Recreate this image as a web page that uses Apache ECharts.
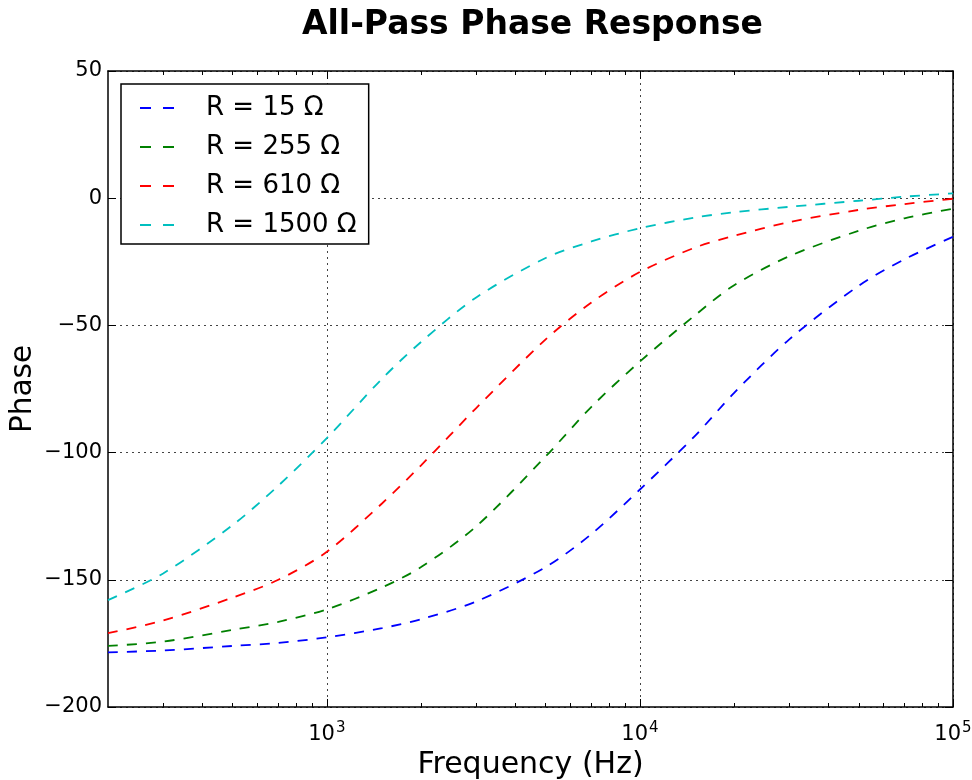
<!DOCTYPE html>
<html><head><meta charset="utf-8">
<script src="https://cdn.jsdelivr.net/npm/echarts@6/dist/echarts.min.js"></script>
<style>html,body{margin:0;padding:0;background:#fff}#c{width:972px;height:780px}</style>
</head><body><div id="c"></div>
<script>
// ---- data ----
const frequencies = [200, 300, 500, 700, 1000, 1500, 2000, 3000, 5000, 7000, 10000, 15000, 20000, 30000, 50000, 70000, 100000];
const seriesNames = ['R = 15 Ω', 'R = 255 Ω', 'R = 610 Ω', 'R = 1500 Ω'];
const phaseR15   = [-178.5, -177.8, -176, -174.8, -172.6, -169, -165.5, -158.5, -145, -132, -114.5, -93.4, -76.5, -55.5, -34.4, -24, -15.2];
const phaseR255  = [-176, -174.3, -169.7, -166.5, -161.6, -153, -145, -129, -101.5, -82, -64.2, -46, -34.2, -22.8, -12.8, -7.9, -4.1];
const phaseR610  = [-171, -166, -157, -150, -139, -120, -105, -82.5, -55.5, -41, -29, -19.4, -14.8, -9.4, -4.6, -2.3, -0.2];
const phaseR1500 = [-158, -147.5, -128.5, -113, -94.3, -71, -56.5, -39, -23.5, -17, -11.8, -7.6, -5.5, -3.4, -1.0, 0.6, 1.9];
const seriesValues = [phaseR15, phaseR255, phaseR610, phaseR1500];
const seriesColors = ['#0000ff', '#008000', '#ff0000', '#00bfbf'];
const xMajorTicks = [1000, 10000, 100000];
const xMinorTicks = [300, 400, 500, 600, 700, 800, 900, 2000, 3000, 4000, 5000, 6000, 7000, 8000, 9000, 20000, 30000, 40000, 50000, 60000, 70000, 80000, 90000];
const yMin = -200, yMax = 50, yStep = 50;

const FONT = 'DejaVu Sans';
const chart = echarts.init(document.getElementById('c'), null, {renderer: 'canvas'});
const grid = {left: 108, right: 19, top: 71, bottom: 73, outerBoundsMode: 'none', containLabel: false};

function xAxisBase(extra) {
  return Object.assign({
    type: 'log', logBase: 10, min: 200, max: 100000, gridIndex: 0,
    axisLine: {show: false, onZero: false}, axisLabel: {show: false}, splitLine: {show: false},
    axisTick: {show: false}
  }, extra);
}

const xAxes = [
  xAxisBase({
    position: 'bottom',
    name: 'Frequency (Hz)', nameLocation: 'middle', nameGap: 43, nameMoveOverlap: false,
    nameTextStyle: {fontFamily: FONT, fontSize: 30, color: '#000'},
    axisLine: {show: true, onZero: false, lineStyle: {color: '#000', width: 1.5}},
    axisTick: {show: true, inside: true, length: 8, customValues: xMajorTicks, lineStyle: {color: '#000', width: 1}},
    axisLabel: {show: true, customValues: xMajorTicks, margin: 14, color: '#000', fontFamily: FONT, fontSize: 21,
      formatter: v => '10{sup|' + Math.round(Math.log10(v)) + '}',
      rich: {sup: {fontSize: 15, fontFamily: FONT, color: '#000', verticalAlign: 'top', padding: [0, 0, 12, 1]}}},
    splitLine: {show: true, lineStyle: {color: '#444', type: [2, 4], width: 1}}
  }),
  xAxisBase({position: 'bottom',
    axisTick: {show: true, inside: true, length: 4, customValues: xMinorTicks, lineStyle: {color: '#000', width: 1}}}),
  xAxisBase({position: 'top',
    axisLine: {show: true, onZero: false, lineStyle: {color: '#000', width: 1.5}},
    axisTick: {show: true, inside: true, length: 8, customValues: xMajorTicks, lineStyle: {color: '#000', width: 1}}}),
  xAxisBase({position: 'top',
    axisTick: {show: true, inside: true, length: 4, customValues: xMinorTicks, lineStyle: {color: '#000', width: 1}}})
];

const yAxes = [
  {type: 'value', min: yMin, max: yMax, interval: yStep, position: 'left',
   name: 'Phase', nameLocation: 'middle', nameGap: 70, nameRotate: 90, nameMoveOverlap: false,
   nameTextStyle: {fontFamily: FONT, fontSize: 29.5, color: '#000'},
   axisLine: {show: true, onZero: false, lineStyle: {color: '#000', width: 1.5}},
   axisTick: {show: true, inside: true, length: 8, lineStyle: {color: '#000', width: 1}},
   axisLabel: {margin: 6, color: '#000', fontFamily: FONT, fontSize: 21,
     formatter: v => String(v).replace('-', '\u2212')},
   splitLine: {show: true, lineStyle: {color: '#444', type: [2, 4], width: 1}}},
  {type: 'value', min: yMin, max: yMax, interval: yStep, position: 'right',
   axisLine: {show: true, onZero: false, lineStyle: {color: '#000', width: 1.5}},
   axisTick: {show: true, inside: true, length: 8, lineStyle: {color: '#000', width: 1}},
   axisLabel: {show: false}, splitLine: {show: false}}
];

const series = seriesNames.map((name, i) => ({
  name, type: 'line', xAxisIndex: 0, yAxisIndex: 0,
  data: frequencies.map((f, j) => [f, seriesValues[i][j]]),
  smooth: 0.3, symbol: 'none', showSymbol: false,
  lineStyle: {color: seriesColors[i], width: 1.8, type: [10, 9]},
  itemStyle: {color: seriesColors[i]},
  emphasis: {disabled: true}, animation: false
}));

chart.setOption({
  animation: false,
  backgroundColor: '#fff',
  title: {text: 'All-Pass Phase Response', left: 297, top: 4,
    textStyle: {fontFamily: FONT, fontSize: 33, fontWeight: 'bold', color: '#000'}},
  legend: {
    orient: 'vertical', left: 121, top: 84,
    data: seriesNames,
    backgroundColor: '#fff', borderColor: '#000', borderWidth: 1.5, borderRadius: 0,
    padding: [10, 12, 5, 18],
    itemWidth: 34, itemHeight: 14, itemGap: 11,
    itemStyle: {color: 'rgba(0,0,0,0)', borderWidth: 0, opacity: 0},
    lineStyle: {type: [11, 12]},
    textStyle: {fontFamily: FONT, fontSize: 26, color: '#000', lineHeight: 28, padding: [0, 0, 0, 27]}
  },
  grid,
  xAxis: xAxes,
  yAxis: yAxes,
  series
});
</script>
</body></html>
